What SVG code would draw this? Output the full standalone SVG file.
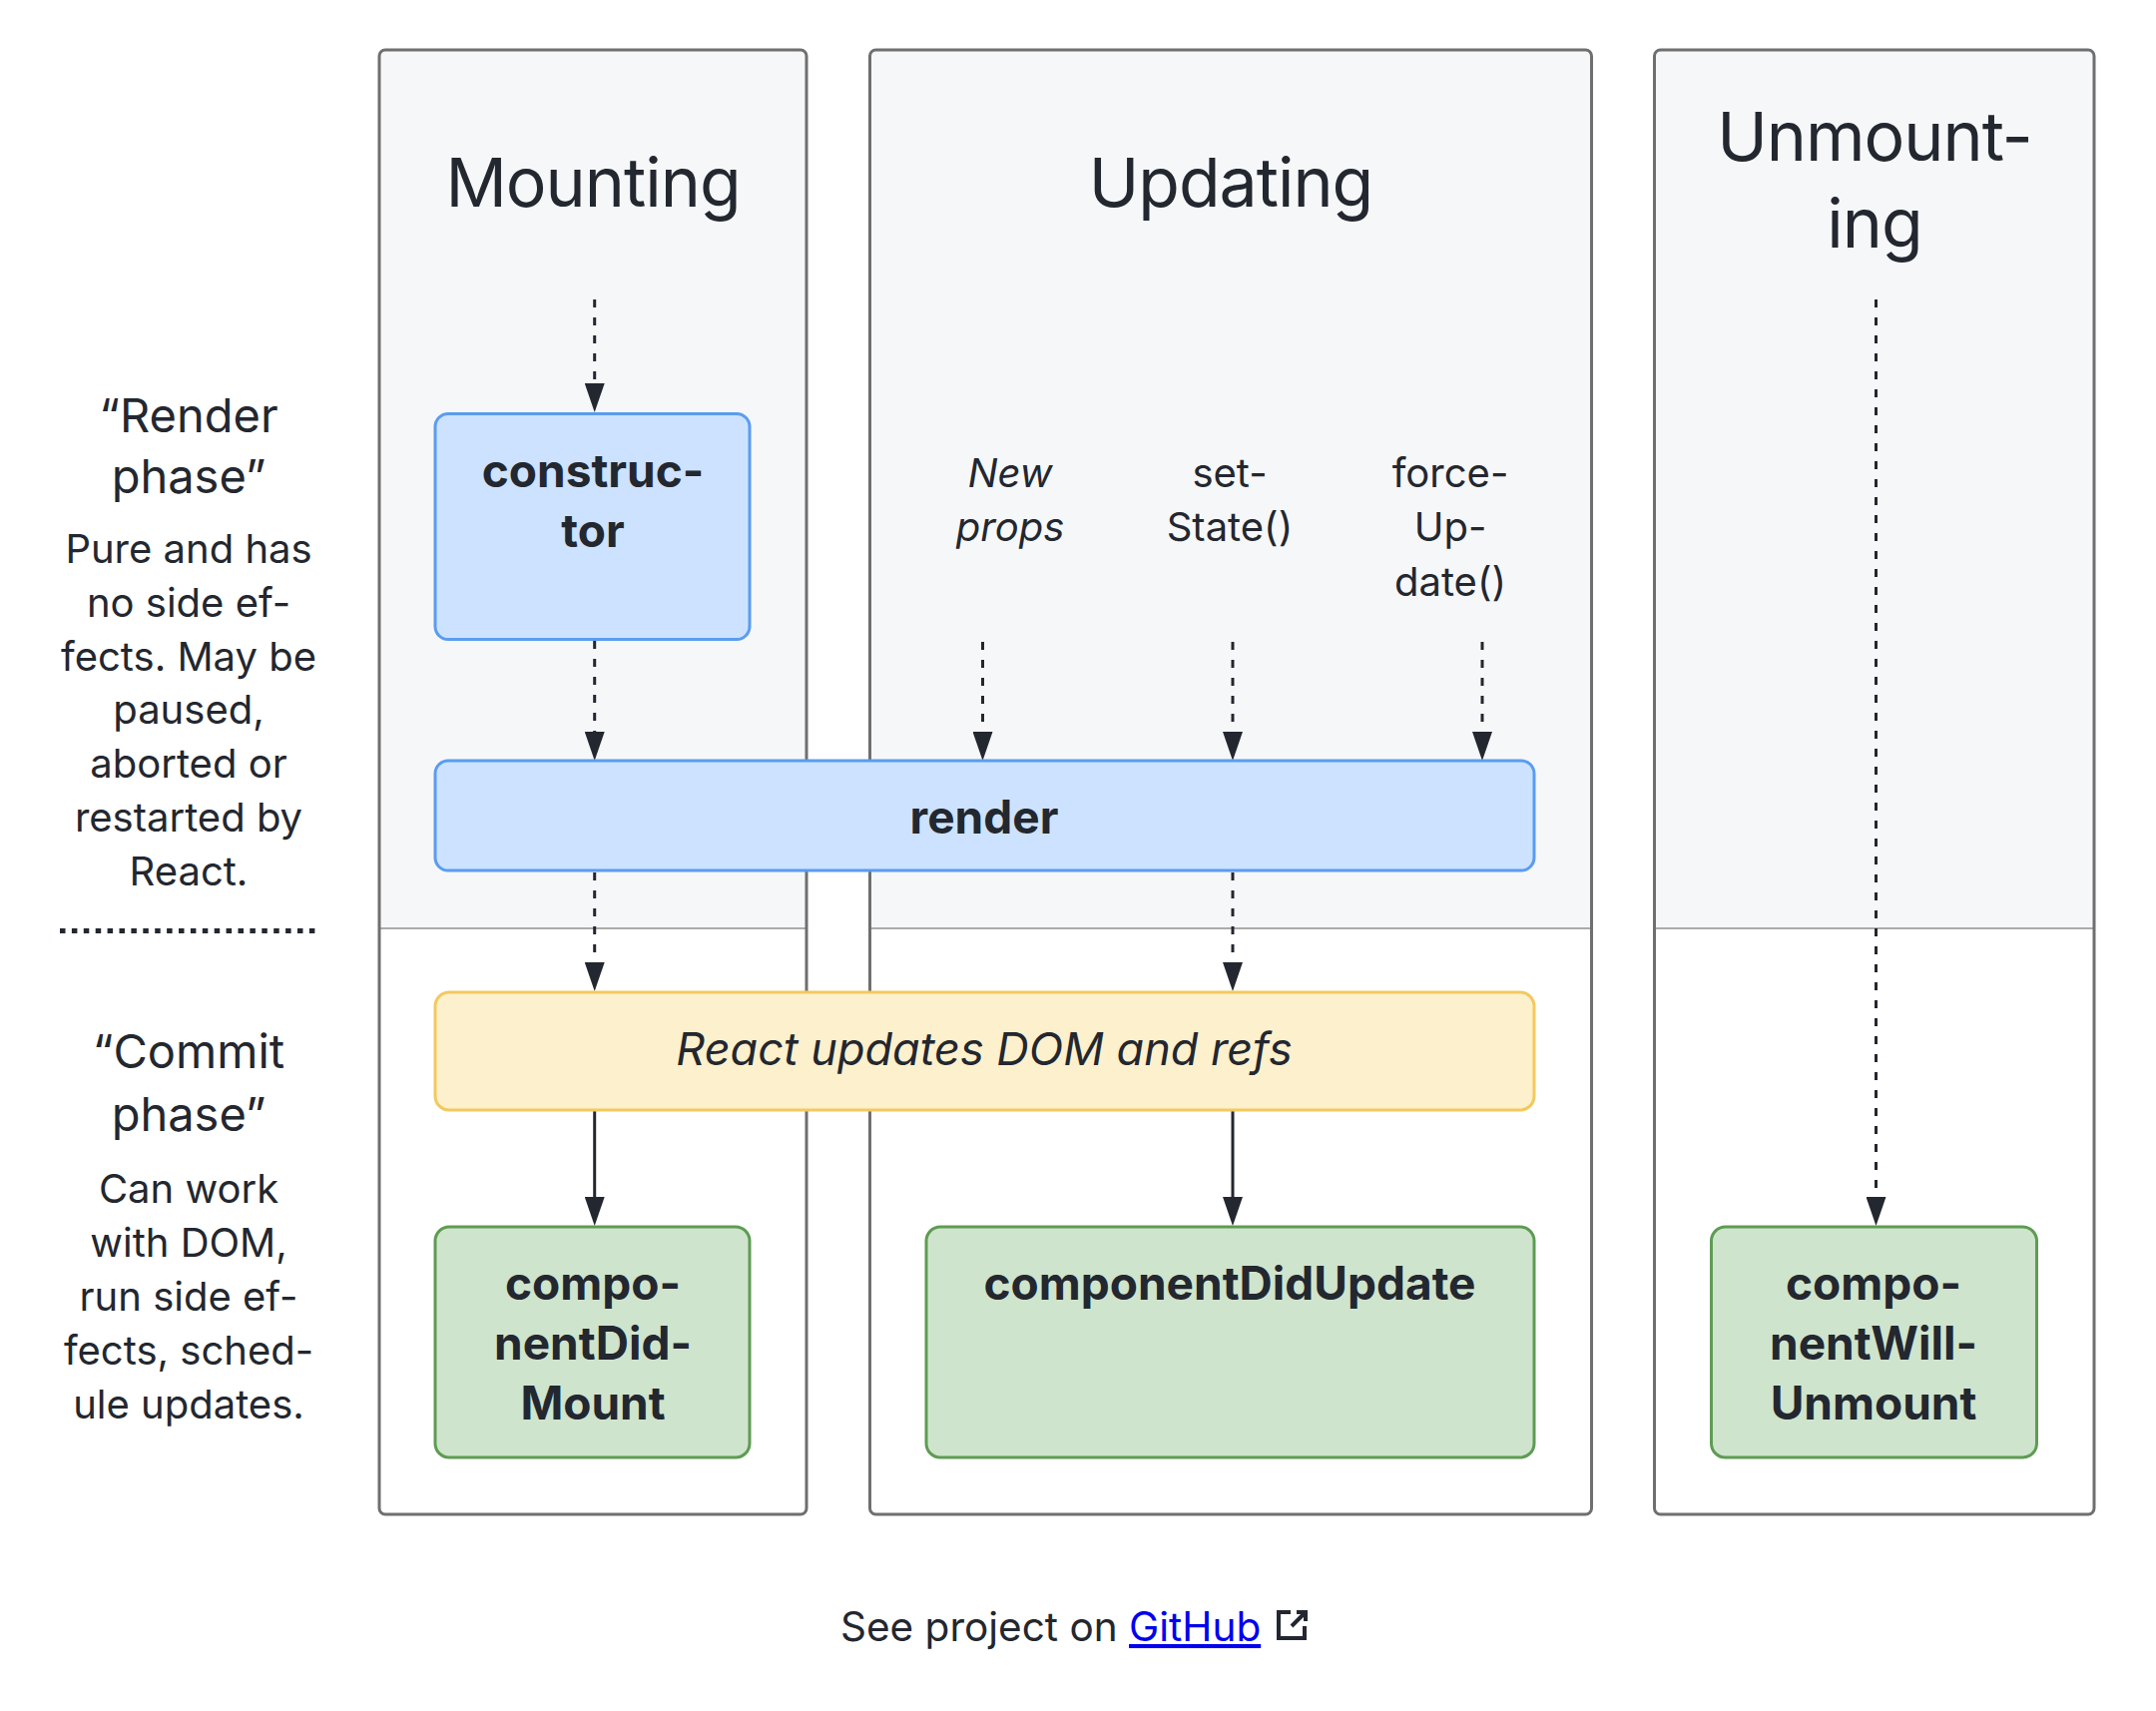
<svg xmlns="http://www.w3.org/2000/svg" width="2160" height="1714" viewBox="0 0 2160 1714">
<style>
text{font-family:Inter,"Noto Sans","Liberation Sans",sans-serif;fill:#23272f;text-anchor:middle}
.title{font-size:68px;letter-spacing:-1px}
.head{font-size:47px}
.body{font-size:40px}
.lbl{font-size:40px}
.it{font-style:italic}
.node{font-size:46px;font-weight:700}
.colfill{fill:#f6f7f9}
.colout{fill:none;stroke:#6f6f6f;stroke-width:3}
.divider{stroke:#ababab;stroke-width:2}
.blue{fill:#cce2fe;stroke:#5b9cf0;stroke-width:3}
.yellow{fill:#fdf0cd;stroke:#f3c95e;stroke-width:3}
.green{fill:#cfe4cd;stroke:#5e9c53;stroke-width:3}
.dash{stroke:#23272f;stroke-width:3;stroke-dasharray:8 10;fill:none}
.solid{stroke:#23272f;stroke-width:3;fill:none}
</style>
<defs>
<marker id="ah" viewBox="0 0 29 20" markerWidth="29" markerHeight="20" refX="1" refY="10" orient="auto" markerUnits="userSpaceOnUse">
<path d="M0,0 L29,10 L0,20 Z" fill="#23272f"/>
</marker>
</defs>
<rect width="2160" height="1714" fill="#ffffff"/>

<g id="col-mounting">
<path class="colfill" d="M380,930 V56 Q380,50 386,50 H802 Q808,50 808,56 V930 Z"/>
<line class="divider" x1="380" y1="930" x2="808" y2="930"/>
<rect class="colout" x="380" y="50" width="428" height="1467" rx="6"/>
<text class="title" x="594" y="207">Mounting</text>
</g>
<g id="col-updating">
<path class="colfill" d="M871.5,930 V56 Q871.5,50 877.5,50 H1588.5 Q1594.5,50 1594.5,56 V930 Z"/>
<line class="divider" x1="871.5" y1="930" x2="1594.5" y2="930"/>
<rect class="colout" x="871.5" y="50" width="723" height="1467" rx="6"/>
<text class="title" x="1233" y="207">Updating</text>
</g>
<g id="col-unmounting">
<path class="colfill" d="M1657.5,930 V56 Q1657.5,50 1663.5,50 H2092 Q2098,50 2098,56 V930 Z"/>
<line class="divider" x1="1657.5" y1="930" x2="2098" y2="930"/>
<rect class="colout" x="1657.5" y="50" width="440.5" height="1467" rx="6"/>
<text class="title" x="1878" y="161">Unmount-</text>
<text class="title" x="1878" y="248">ing</text>
</g>

<g id="render-phase-label">
<text class="head" x="189" y="433">“Render</text>
<text class="head" x="189" y="494">phase”</text>
<text class="body" x="189" y="564">Pure and has</text>
<text class="body" x="189" y="618">no side ef-</text>
<text class="body" x="189" y="672">fects. May be</text>
<text class="body" x="189" y="725">paused,</text>
<text class="body" x="189" y="779">aborted or</text>
<text class="body" x="189" y="833">restarted by</text>
<text class="body" x="189" y="887">React.</text>
</g>
<line id="phase-separator" x1="60" y1="932.5" x2="320" y2="932.5" stroke="#23272f" stroke-width="5" stroke-dasharray="5.5 6.4"/>
<g id="commit-phase-label">
<text class="head" x="189" y="1070">“Commit</text>
<text class="head" x="189" y="1133">phase”</text>
<text class="body" x="189" y="1205">Can work</text>
<text class="body" x="189" y="1259">with DOM,</text>
<text class="body" x="189" y="1313">run side ef-</text>
<text class="body" x="189" y="1367">fects, sched-</text>
<text class="body" x="189" y="1421">ule updates.</text>
</g>

<g id="trigger-labels">
<text class="lbl it" x="1012" y="488">New</text>
<text class="lbl it" x="1012" y="542">props</text>
<text class="lbl" x="1232" y="488">set-</text>
<text class="lbl" x="1232" y="542">State()</text>
<text class="lbl" x="1453" y="488">force-</text>
<text class="lbl" x="1453" y="542">Up-</text>
<text class="lbl" x="1453" y="597">date()</text>
</g>

<g id="connectors">
<line class="dash" x1="595.7" y1="300" x2="595.7" y2="385" marker-end="url(#ah)"/>
<line class="dash" x1="595.7" y1="642" x2="595.7" y2="734" marker-end="url(#ah)"/>
<line class="dash" x1="984.5" y1="643" x2="984.5" y2="734" marker-end="url(#ah)"/>
<line class="dash" x1="1235" y1="643" x2="1235" y2="734" marker-end="url(#ah)"/>
<line class="dash" x1="1485" y1="643" x2="1485" y2="734" marker-end="url(#ah)"/>
<line class="dash" x1="595.7" y1="874" x2="595.7" y2="965" marker-end="url(#ah)"/>
<line class="dash" x1="1235" y1="874" x2="1235" y2="965" marker-end="url(#ah)"/>
<line class="dash" x1="1879.5" y1="300" x2="1879.5" y2="1200" marker-end="url(#ah)"/>
<line class="solid" x1="595.7" y1="1113" x2="595.7" y2="1200" marker-end="url(#ah)"/>
<line class="solid" x1="1235" y1="1113" x2="1235" y2="1200" marker-end="url(#ah)"/>
</g>

<g id="constructor">
<rect class="blue" x="436" y="414.5" width="315" height="226" rx="13"/>
<text class="node" x="594" y="488">construc-</text>
<text class="node" x="594" y="548">tor</text>
</g>
<g id="render">
<rect class="blue" x="436" y="762" width="1101" height="110" rx="13"/>
<text class="node" x="986" y="835">render</text>
</g>
<g id="react-updates-dom">
<rect class="yellow" x="436" y="994" width="1101" height="118" rx="14"/>
<text class="it" style="font-size:45px" x="986" y="1067">React updates DOM and refs</text>
</g>
<g id="componentDidMount">
<rect class="green" x="436" y="1229" width="315" height="231" rx="14"/>
<text class="node" x="594" y="1302">compo-</text>
<text class="node" x="594" y="1362">nentDid-</text>
<text class="node" x="594" y="1422">Mount</text>
</g>
<g id="componentDidUpdate">
<rect class="green" x="928" y="1229" width="609" height="231" rx="14"/>
<text class="node" x="1232" y="1302">componentDidUpdate</text>
</g>
<g id="componentWillUnmount">
<rect class="green" x="1714.5" y="1229" width="326" height="231" rx="14"/>
<text class="node" x="1877" y="1302">compo-</text>
<text class="node" x="1877" y="1362">nentWill-</text>
<text class="node" x="1877" y="1422">Unmount</text>
</g>

<g id="footer">
<text x="842" y="1644" style="text-anchor:start;font-size:40.5px">See project on <tspan fill="#0000ee" style="text-decoration:underline">GitHub</tspan></text>
<path d="M1293,1615 H1281 V1641 H1307 V1629" fill="none" stroke="#23272f" stroke-width="4"/>
<path d="M1294,1629 L1307,1616 M1299,1615 H1308 V1624" fill="none" stroke="#23272f" stroke-width="4"/>
</g>
</svg>
